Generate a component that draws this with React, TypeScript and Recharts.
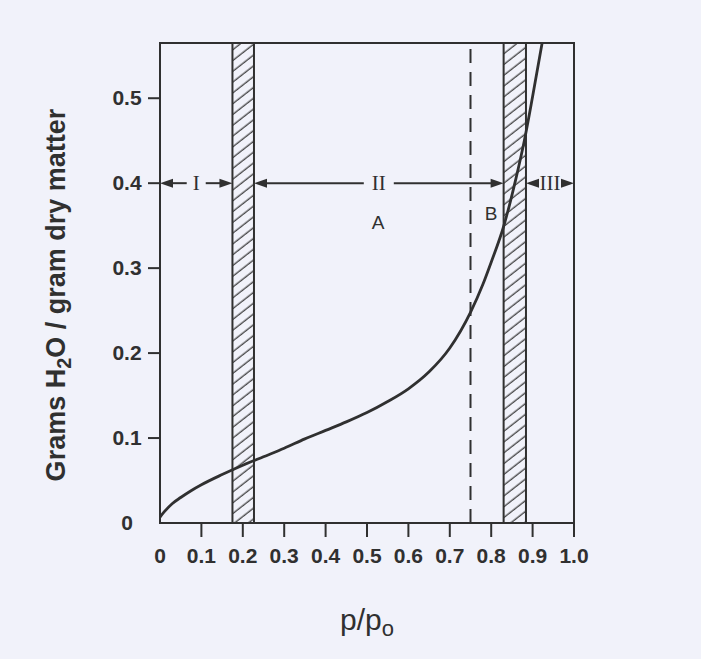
import React from 'react';
import { LineChart, Line, XAxis, YAxis, ReferenceArea, ReferenceLine, ReferenceDot } from 'recharts';

// Sorption isotherm: water content vs. relative vapour pressure
const pressure = [0, 0.01, 0.03, 0.05, 0.075, 0.1, 0.15, 0.2, 0.25, 0.3, 0.35, 0.4, 0.45, 0.5, 0.55, 0.6, 0.65, 0.7, 0.75, 0.78, 0.8, 0.83, 0.86, 0.88, 0.9, 0.923];
const moisture = [0.007, 0.013, 0.023, 0.03, 0.038, 0.045, 0.057, 0.068, 0.078, 0.088, 0.099, 0.109, 0.119, 0.13, 0.143, 0.158, 0.178, 0.206, 0.248, 0.281, 0.307, 0.349, 0.406, 0.45, 0.502, 0.565];

const xTicks = [0, 0.1, 0.2, 0.3, 0.4, 0.5, 0.6, 0.7, 0.8, 0.9, 1.0];
const yTicks = [0, 0.1, 0.2, 0.3, 0.4, 0.5];
const yMax = 0.565;

// transition zones (hatched)
const bands = [
  { x1: 0.175, x2: 0.227 },
  { x1: 0.83, x2: 0.884 },
];
const boundaryA = 0.75;

// region spans drawn as double arrows
const regions = [
  { from: 0, to: 0.175, label: 'I' },
  { from: 0.227, to: 0.83, label: 'II' },
  { from: 0.884, to: 1.0, label: 'III' },
];
const regionLevel = 0.4;

const notes = [
  { x: 0.527, y: 0.354, text: 'A' },
  { x: 0.8, y: 0.365, text: 'B' },
];

const data = pressure.map((p, i) => ({ p, w: moisture[i] }));

const ink = '#303030';
const sans = "'Liberation Sans', Arial, sans-serif";

const SpanArrow = (label: string) => (props: any) => {
  const { x1, x2, y1 } = props;
  const y = y1;
  const cx = (x1 + x2) / 2;
  const gap = 4 + label.length * 5.5;
  const head = 12;
  return (
    <g>
      <line x1={x1 + head} y1={y} x2={cx - gap} y2={y} stroke={ink} strokeWidth={2} />
      <line x1={cx + gap} y1={y} x2={x2 - head} y2={y} stroke={ink} strokeWidth={2} />
      <polygon points={`${x1},${y} ${x1 + head + 1},${y - 4.5} ${x1 + head + 1},${y + 4.5}`} fill={ink} />
      <polygon points={`${x2},${y} ${x2 - head - 1},${y - 4.5} ${x2 - head - 1},${y + 4.5}`} fill={ink} />
      <text x={cx} y={y + 7} textAnchor="middle" fontFamily="'Liberation Serif', serif" fontSize={21} fill={ink}>
        {label}
      </text>
    </g>
  );
};

const XTick = (props: any) => {
  const { x, y, payload } = props;
  const v = payload.value as number;
  return (
    <g>
      {v !== 0 && <line x1={x} y1={y} x2={x} y2={y + 14} stroke={ink} strokeWidth={2} />}
      <text x={x} y={y + 40} textAnchor="middle" fontFamily={sans} fontWeight="bold" fontSize={21} fill={ink}>
        {v === 0 ? '0' : v.toFixed(1)}
      </text>
    </g>
  );
};

const YTick = (props: any) => {
  const { x, y, payload } = props;
  const v = payload.value as number;
  return (
    <g>
      {v !== 0 && <line x1={x - 12} y1={y} x2={x} y2={y} stroke={ink} strokeWidth={2} />}
      <text x={x - 33} y={y + 6.5} textAnchor="middle" fontFamily={sans} fontWeight="bold" fontSize={21} fill={ink}>
        {v === 0 ? '0' : v.toFixed(1)}
      </text>
    </g>
  );
};

const YTitle = (props: any) => {
  const { viewBox } = props;
  const x = viewBox.x + 65;
  const y = viewBox.y + viewBox.height / 2 + 12;
  return (
    <text
      x={x}
      y={y}
      transform={`rotate(-90 ${x} ${y})`}
      textAnchor="middle"
      fontFamily={sans}
      fontWeight="bold"
      fontSize={27}
      fill={ink}
    >
      Grams H<tspan dy={6} fontSize={20}>2</tspan>
      <tspan dy={-6}>O / gram dry matter</tspan>
    </text>
  );
};

const XTitle = (props: any) => {
  const { viewBox } = props;
  const x = viewBox.x + viewBox.width / 2;
  const y = viewBox.y + 107;
  return (
    <text x={x} y={y} textAnchor="middle" fontFamily={sans} fontSize={30} fill={ink}>
      p/p<tspan dy={6} fontSize={22}>o</tspan>
    </text>
  );
};

export default function App() {
  return (
    <div style={{ position: 'fixed', left: 0, top: 0, width: 701, height: 659, background: '#f1f2fa' }}>
      <LineChart width={701} height={659} data={data} margin={{ top: 43, right: 127, bottom: 0, left: 0 }}>
        <defs>
          <pattern id="hatch" width="8.5" height="8.5" patternUnits="userSpaceOnUse" patternTransform="rotate(-38)">
            <line x1="0" y1="4" x2="8.5" y2="4" stroke={ink} strokeWidth={1.2} />
          </pattern>
        </defs>
        <XAxis
          dataKey="p"
          type="number"
          domain={[0, 1]}
          ticks={xTicks}
          interval={0}
          height={136}
          tickSize={0}
          tickMargin={0}
          tickLine={false}
          axisLine={{ stroke: ink, strokeWidth: 2 }}
          tick={XTick}
          label={{ content: XTitle }}
        />
        <YAxis
          type="number"
          domain={[0, yMax]}
          ticks={yTicks}
          interval={0}
          width={160}
          tickSize={0}
          tickMargin={0}
          tickLine={false}
          axisLine={{ stroke: ink, strokeWidth: 2 }}
          tick={YTick}
          label={{ content: YTitle }}
        />
        <ReferenceArea x1={0} x2={1} y1={0} y2={yMax} fill="none" stroke={ink} strokeWidth={2} />
        {bands.map((b) => (
          <ReferenceArea key={b.x1} x1={b.x1} x2={b.x2} y1={0} y2={yMax} fill="url(#hatch)" fillOpacity={1} stroke={ink} strokeWidth={2} />
        ))}
        <ReferenceLine x={boundaryA} stroke={ink} strokeWidth={2} strokeDasharray="14 9" />
        {regions.map((r) => (
          <ReferenceLine
            key={r.label}
            segment={[{ x: r.from, y: regionLevel }, { x: r.to, y: regionLevel }]}
            shape={SpanArrow(r.label)}
          />
        ))}
        {notes.map((n) => (
          <ReferenceDot
            key={n.text}
            x={n.x}
            y={n.y}
            r={0}
            stroke="none"
            label={{ value: n.text, position: 'center', fontSize: 19, fill: ink, fontFamily: sans }}
          />
        ))}
        <Line type="monotone" dataKey="w" stroke={ink} strokeWidth={2.8} dot={false} isAnimationActive={false} />
      </LineChart>
    </div>
  );
}
